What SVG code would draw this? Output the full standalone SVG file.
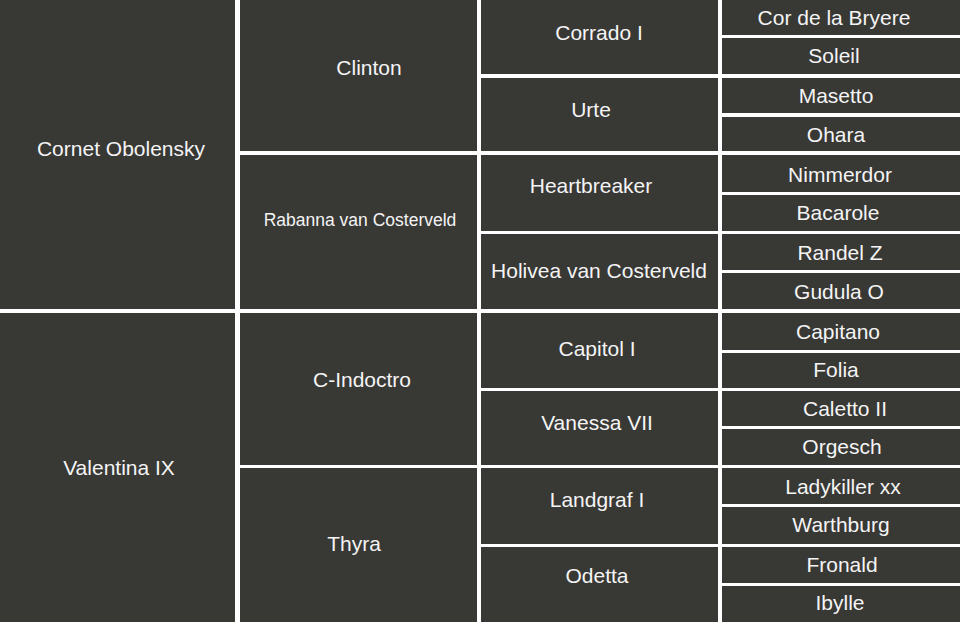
<svg xmlns="http://www.w3.org/2000/svg" width="960" height="626" viewBox="0 0 960 626">
<style>
.b{fill:#383834}
.t{fill:#f4f4f4;font-family:"Liberation Sans",Arial,sans-serif;font-size:21px;text-anchor:middle}
.s{font-size:17.5px}
</style>
<rect width="960" height="626" fill="#ffffff"/>
<g id="gen1">
<g id="n-cornet"><rect class="b" x="0" y="0" width="235" height="309"/><text class="t" x="121" y="156">Cornet Obolensky</text></g>
<g id="n-valentina"><rect class="b" x="0" y="313" width="235" height="309"/><text class="t" x="119" y="475">Valentina IX</text></g>
</g>
<g id="gen2">
<g id="n-clinton"><rect class="b" x="240" y="0" width="237" height="151"/><text class="t" x="369" y="75">Clinton</text></g>
<g id="n-rabanna"><rect class="b" x="240" y="155" width="237" height="154"/><text class="t s" x="360" y="226">Rabanna van Costerveld</text></g>
<g id="n-cindoctro"><rect class="b" x="240" y="313" width="237" height="152"/><text class="t" x="362" y="387">C-Indoctro</text></g>
<g id="n-thyra"><rect class="b" x="240" y="468" width="237" height="154"/><text class="t" x="354" y="551">Thyra</text></g>
</g>
<g id="gen3">
<g id="n-corrado"><rect class="b" x="481" y="0" width="237" height="74"/><text class="t" x="599" y="40">Corrado I</text></g>
<g id="n-urte"><rect class="b" x="481" y="78" width="237" height="73"/><text class="t" x="591" y="117">Urte</text></g>
<g id="n-heartbreaker"><rect class="b" x="481" y="155" width="237" height="76"/><text class="t" x="591" y="193">Heartbreaker</text></g>
<g id="n-holivea"><rect class="b" x="481" y="234" width="237" height="75"/><text class="t" x="599" y="278">Holivea van Costerveld</text></g>
<g id="n-capitol"><rect class="b" x="481" y="313" width="237" height="75"/><text class="t" x="597" y="356">Capitol I</text></g>
<g id="n-vanessa"><rect class="b" x="481" y="391" width="237" height="74"/><text class="t" x="597" y="430">Vanessa VII</text></g>
<g id="n-landgraf"><rect class="b" x="481" y="468" width="237" height="76"/><text class="t" x="597" y="507">Landgraf I</text></g>
<g id="n-odetta"><rect class="b" x="481" y="547" width="237" height="75"/><text class="t" x="597" y="583">Odetta</text></g>
</g>
<g id="gen4">
<g id="n-cor"><rect class="b" x="722" y="0" width="238" height="35"/><text class="t" x="834" y="25">Cor de la Bryere</text></g>
<g id="n-soleil"><rect class="b" x="722" y="38" width="238" height="36"/><text class="t" x="834" y="63">Soleil</text></g>
<g id="n-masetto"><rect class="b" x="722" y="78" width="238" height="35"/><text class="t" x="836" y="103">Masetto</text></g>
<g id="n-ohara"><rect class="b" x="722" y="117" width="238" height="34"/><text class="t" x="836" y="142">Ohara</text></g>
<g id="n-nimmerdor"><rect class="b" x="722" y="155" width="238" height="37"/><text class="t" x="840" y="182">Nimmerdor</text></g>
<g id="n-bacarole"><rect class="b" x="722" y="195" width="238" height="36"/><text class="t" x="838" y="220">Bacarole</text></g>
<g id="n-randel"><rect class="b" x="722" y="234" width="238" height="36"/><text class="t" x="840" y="260">Randel Z</text></g>
<g id="n-gudula"><rect class="b" x="722" y="273" width="238" height="36"/><text class="t" x="839" y="299">Gudula O</text></g>
<g id="n-capitano"><rect class="b" x="722" y="313" width="238" height="37"/><text class="t" x="838" y="339">Capitano</text></g>
<g id="n-folia"><rect class="b" x="722" y="353" width="238" height="35"/><text class="t" x="836" y="377">Folia</text></g>
<g id="n-caletto"><rect class="b" x="722" y="391" width="238" height="35"/><text class="t" x="845" y="416">Caletto II</text></g>
<g id="n-orgesch"><rect class="b" x="722" y="429" width="238" height="36"/><text class="t" x="842" y="454">Orgesch</text></g>
<g id="n-ladykiller"><rect class="b" x="722" y="468" width="238" height="36"/><text class="t" x="843" y="494">Ladykiller xx</text></g>
<g id="n-warthburg"><rect class="b" x="722" y="507" width="238" height="37"/><text class="t" x="841" y="532">Warthburg</text></g>
<g id="n-fronald"><rect class="b" x="722" y="547" width="238" height="36"/><text class="t" x="842" y="572">Fronald</text></g>
<g id="n-ibylle"><rect class="b" x="722" y="586" width="238" height="36"/><text class="t" x="840" y="610">Ibylle</text></g>
</g>
<g id="connectors"></g>
</svg>
